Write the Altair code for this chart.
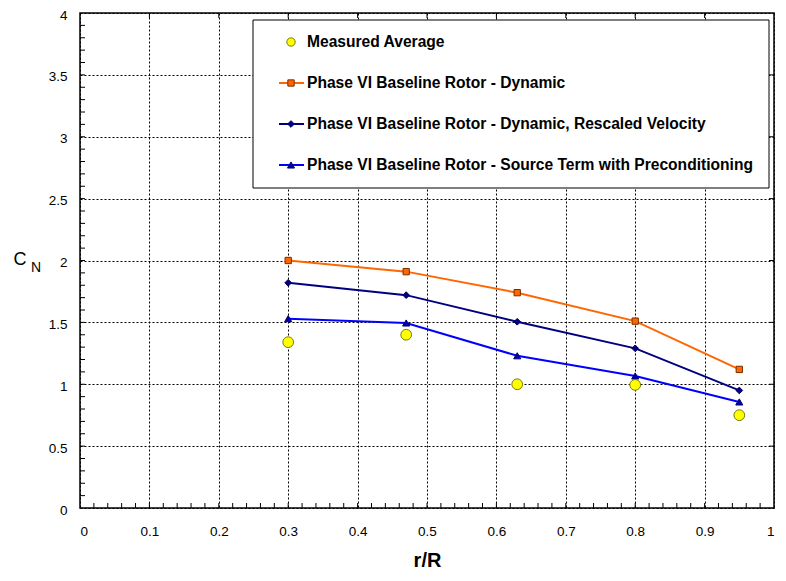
import altair as alt
import pandas as pd

# ---------------- data ----------------
r_over_R = [0.3, 0.47, 0.63, 0.8, 0.95]
measured = [1.34, 1.40, 1.00, 0.995, 0.75]
dynamic = [2.00, 1.91, 1.74, 1.51, 1.12]
rescaled = [1.82, 1.72, 1.505, 1.29, 0.95]
source_term = [1.53, 1.495, 1.23, 1.067, 0.857]

series_names = [
    "Measured Average",
    "Phase VI Baseline Rotor - Dynamic",
    "Phase VI Baseline Rotor - Dynamic, Rescaled Velocity",
    "Phase VI Baseline Rotor - Source Term with Preconditioning",
]

x_ticks = [0, 0.1, 0.2, 0.3, 0.4, 0.5, 0.6, 0.7, 0.8, 0.9, 1.0]
y_ticks = [0, 0.5, 1, 1.5, 2, 2.5, 3, 3.5, 4]
x_minor = [round(0.02 * i, 2) for i in range(1, 50)]
y_minor = [round(0.1 * i, 1) for i in range(1, 40)]

# ---------------- layout ----------------
W, H = 694, 495
FONT = "Liberation Sans"

xs = alt.Scale(domain=[0, 1], nice=False, zero=False)
ys = alt.Scale(domain=[0, 4], nice=False, zero=False)

xaxis = alt.Axis(values=x_ticks, format="~g", title="r/R", grid=True, ticks=False,
                 domain=False, labelPadding=16, titlePadding=13,
                 titleFontSize=20, titleFontWeight="bold", labelFontSize=13.5)
yaxis = alt.Axis(values=y_ticks, format="~g", title=None, grid=True, ticks=False,
                 domain=False, labelPadding=13, labelFontSize=13.5, labelOffset=2)

X = alt.X("x:Q", scale=xs, axis=xaxis)
Y = alt.Y("y:Q", scale=ys, axis=yaxis)


def df(xv, yv):
    return pd.DataFrame({"x": xv, "y": yv})


layers = []

# series lines + markers
line_specs = [
    (dynamic, "#FF6600", "square", "#FF6600", "#7a2e00", 40),
    (rescaled, "#000080", "diamond", "#000080", "#000060", 45),
    (source_term, "#0000FF", "triangle-up", "#0000B0", "#000070", 50),
]
for vals, col, shp, fillc, strokec, sz in line_specs:
    d = df(r_over_R, vals)
    layers.append(alt.Chart(d).mark_line(color=col, strokeWidth=2).encode(x=X, y=Y))
    layers.append(alt.Chart(d).mark_point(shape=shp, filled=True, fill=fillc, stroke=strokec,
                                          strokeWidth=1, size=sz, opacity=1).encode(x=X, y=Y))

# measured points
layers.append(alt.Chart(df(r_over_R, measured)).mark_point(
    shape="circle", filled=True, fill="#FFFF00", stroke="#7a7a00", strokeWidth=1,
    size=115, opacity=1).encode(x=X, y=Y))

one = pd.DataFrame({"a": [0]})

# legend box
LX0, LX1 = 173, W - 5
layers.append(alt.Chart(one).mark_rect(fill="white", stroke="black", strokeWidth=1).encode(
    x=alt.value(LX0), x2=alt.value(LX1), y=alt.value(7), y2=alt.value(175)))

row_y = [29, 70, 111, 152]
SYM_X0, SYM_X1, SYM_C, TXT_X = 199, 224, 211, 227
# legend symbols
layers.append(alt.Chart(one).mark_point(shape="circle", filled=True, fill="#FFFF00",
                                        stroke="#7a7a00", strokeWidth=1, size=70, opacity=1).encode(
    x=alt.value(SYM_C), y=alt.value(row_y[0])))
for (vals, col, shp, fillc, strokec, sz), ry in zip(line_specs, row_y[1:]):
    layers.append(alt.Chart(one).mark_rule(color=col, strokeWidth=2).encode(
        x=alt.value(SYM_X0), x2=alt.value(SYM_X1), y=alt.value(ry)))
    layers.append(alt.Chart(one).mark_point(shape=shp, filled=True, fill=fillc, stroke=strokec,
                                            strokeWidth=1, size=sz, opacity=1).encode(
        x=alt.value(SYM_C), y=alt.value(ry)))
for name, ry in zip(series_names, row_y):
    layers.append(alt.Chart(pd.DataFrame({"label": [name]})).mark_text(
        align="left", baseline="middle", font=FONT, fontSize=15.6, fontWeight="bold",
        color="black").encode(text="label:N", x=alt.value(TXT_X), y=alt.value(ry)))

# inward ticks
layers.append(alt.Chart(pd.DataFrame({"x": x_minor})).mark_rule(color="black").encode(
    x=X, y=alt.value(H), y2=alt.value(H - 5)))
layers.append(alt.Chart(pd.DataFrame({"x": x_ticks[1:-1]})).mark_rule(color="black").encode(
    x=X, y=alt.value(0), y2=alt.value(5)))
layers.append(alt.Chart(pd.DataFrame({"y": y_minor})).mark_rule(color="black").encode(
    y=Y, x=alt.value(0), x2=alt.value(5)))
layers.append(alt.Chart(pd.DataFrame({"y": y_ticks[1:-1]})).mark_rule(color="black").encode(
    y=Y, x=alt.value(W), x2=alt.value(W - 5)))

# y axis title C_N
layers.append(alt.Chart(pd.DataFrame({"t": ["C"]})).mark_text(
    font=FONT, fontSize=18, align="center", baseline="middle", color="black").encode(
    text="t:N", x=alt.value(-60), y=alt.value(247)))
layers.append(alt.Chart(pd.DataFrame({"t": ["N"]})).mark_text(
    font=FONT, fontSize=14, align="center", baseline="middle", color="black").encode(
    text="t:N", x=alt.value(-44), y=alt.value(255)))

chart = alt.layer(*layers).properties(
    width=W, height=H,
    autosize=alt.AutoSizeParams(type="none"),
    padding={"left": 72, "top": 5, "right": 4, "bottom": 65},
    background="white",
).configure_view(
    stroke="black", strokeWidth=1.5
).configure_axis(
    gridColor="black", gridDash=[2, 2], gridOpacity=1, gridWidth=1,
    labelFont=FONT, titleFont=FONT, labelColor="black", titleColor="black",
)

chart.save("out.html", embed_options={"renderer": "svg", "actions": False})
